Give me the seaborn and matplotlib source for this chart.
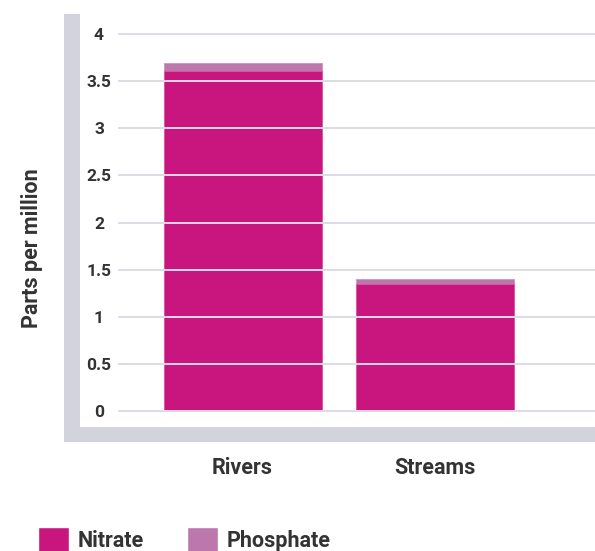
import matplotlib
matplotlib.use("Agg")
import matplotlib.pyplot as plt
from matplotlib.patches import Rectangle, Patch
import seaborn as sns
import pandas as pd

categories = ["Rivers", "Streams"]
nitrate = [3.61, 1.35]
phosphate = [0.08, 0.05]
y_ticks = [0, 0.5, 1, 1.5, 2, 2.5, 3, 3.5, 4]
y_tick_labels = ["0", "0.5", "1", "1.5", "2", "2.5", "3", "3.5", "4"]
y_label = "Parts per million"
series_names = ["Nitrate", "Phosphate"]

NITRATE_C = "#C9157E"
PHOS_C = "#BC77AC"
FRAME_C = "#D3D3DD"
GRID_C = "#DCDCE4"
TEXT_C = "#333333"

sns.set_theme(style="white")
plt.rcParams["font.family"] = ["Roboto", "DejaVu Sans"]

df = pd.DataFrame({
    "category": categories,
    "nitrate": nitrate,
    "total": [n + p for n, p in zip(nitrate, phosphate)],
})

W, H = 595, 551
fig = plt.figure(figsize=(W / 100, H / 100), dpi=100)
ax = fig.add_axes([118 / W, (H - 426) / H, (W - 118) / W, 411 / H])

sns.barplot(data=df, x="category", y="total", color=PHOS_C, saturation=1,
            width=0.82, ax=ax, edgecolor="#D68CC0", linewidth=0.6)
sns.barplot(data=df, x="category", y="nitrate", color=NITRATE_C, saturation=1,
            width=0.82, ax=ax, edgecolor="#DC5AA6", linewidth=0.6)

ax.set_xlim(-0.646, 1.828)
ax.set_ylim(-0.159, 4.2016)
ax.set_yticks(y_ticks)
ax.set_yticklabels(y_tick_labels, ha="center")
ax.tick_params(axis="y", length=0, pad=13.7, labelsize=12.5, colors=TEXT_C)
ax.tick_params(axis="x", length=0, pad=22, labelsize=15.5, colors=TEXT_C)
for lbl in ax.get_yticklabels() + ax.get_xticklabels():
    lbl.set_fontweight("bold")
ax.set_xlabel("")
ax.set_ylabel(y_label, fontsize=15.5, fontweight="bold", color=TEXT_C, labelpad=0)
ax.yaxis.set_label_coords(-(118 - 43) / 477, 0.433)

ax.set_axisbelow(False)
ax.yaxis.grid(True, color=GRID_C, linewidth=1.4)
ax.xaxis.grid(False)
for s in ax.spines.values():
    s.set_visible(False)

# gray frame
fig.add_artist(Rectangle((64 / W, (H - 442) / H), 16 / W, 428 / H,
                         transform=fig.transFigure, color=FRAME_C, lw=0))
fig.add_artist(Rectangle((64 / W, (H - 442) / H), (W - 64) / W, 15 / H,
                         transform=fig.transFigure, color=FRAME_C, lw=0))

handles = [Patch(facecolor=NITRATE_C, label=series_names[0]),
           Patch(facecolor=PHOS_C, label=series_names[1])]
leg = fig.legend(handles=handles, loc="upper left",
                 bbox_to_anchor=(38 / W, 24 / H), ncol=2, frameon=False,
                 borderpad=0, borderaxespad=0, handlelength=1.45,
                 handleheight=1.45, handletextpad=0.4, columnspacing=2.0,
                 prop={"weight": "bold", "size": 15.5})
for t in leg.get_texts():
    t.set_color(TEXT_C)

fig.savefig("out.png", dpi=100)
